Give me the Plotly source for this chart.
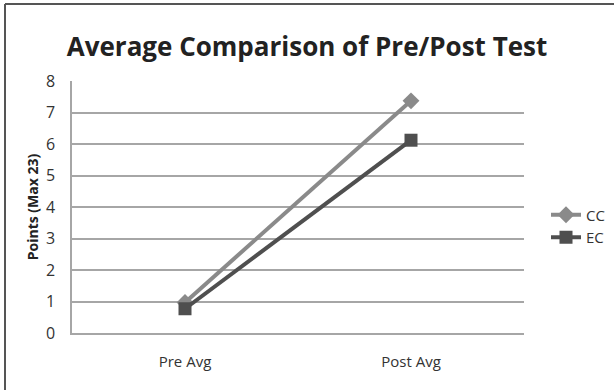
import plotly.graph_objects as go

categories = ["Pre Avg", "Post Avg"]
cc_values = [0.97, 7.37]
ec_values = [0.77, 6.12]
y_ticks = [0, 1, 2, 3, 4, 5, 6, 7, 8]

W, H = 614, 390
L, R, T, B = 72, 90, 81, 57
pw, ph = W - L - R, H - T - B

fig = go.Figure()
fig.add_trace(go.Scatter(
    x=categories, y=cc_values, name="CC", mode="lines+markers",
    line=dict(color="#8a8a8a", width=4),
    marker=dict(symbol="diamond", size=13, color="#8a8a8a"),
))
fig.add_trace(go.Scatter(
    x=categories, y=ec_values, name="EC", mode="lines+markers",
    line=dict(color="#4f4f4f", width=4),
    marker=dict(symbol="square", size=13, color="#4f4f4f"),
))

def px_x(p):
    return (p - L) / pw

def px_y(p):
    return (H - B - p) / ph

fig.update_layout(
    width=W, height=H,
    margin=dict(l=L, r=R, t=T, b=B, autoexpand=False),
    paper_bgcolor="white", plot_bgcolor="white",
    font=dict(family="Open Sans, Liberation Sans, sans-serif", color="#333333", size=14),
    title=dict(text="<b>Average Comparison of Pre/Post Test</b>",
               x=0.5, xanchor="center", y=1 - 47 / H, yanchor="middle",
               font=dict(size=26, color="#222222")),
    showlegend=True,
    legend=dict(x=px_x(546), xanchor="left", y=px_y(226), yanchor="middle",
                font=dict(size=15, color="#333333"), bgcolor="rgba(0,0,0,0)",
                itemwidth=30, tracegroupgap=6),
    xaxis=dict(type="category", range=[-0.5, 1.5], showgrid=False,
               showline=True, linecolor="#a6a6a6", linewidth=1.5,
               ticks="", ticklabelstandoff=14, automargin=False,
               tickfont=dict(size=15, color="#333333")),
    yaxis=dict(range=[0, 8], tickvals=y_ticks, showgrid=True,
               gridcolor="#a6a6a6", gridwidth=1.5, automargin=False,
               showline=True, linecolor="#a6a6a6", linewidth=1.5,
               ticks="", ticklabelstandoff=12, zeroline=False,
               tickfont=dict(size=16, color="#333333"),
               title=dict(text="<b>Points (Max 23)</b>", standoff=4,
                          font=dict(size=14, color="#222222"))),
    shapes=[
        dict(type="line", xref="paper", yref="paper",
             x0=px_x(5), x1=px_x(5), y0=px_y(4), y1=px_y(H),
             line=dict(color="#555555", width=2)),
        dict(type="line", xref="paper", yref="paper",
             x0=px_x(5), x1=px_x(W), y0=px_y(4), y1=px_y(4),
             line=dict(color="#555555", width=2)),
    ],
)

fig.write_html("out.html", config={"displayModeBar": False},
               post_script="document.body.style.margin='0';")
